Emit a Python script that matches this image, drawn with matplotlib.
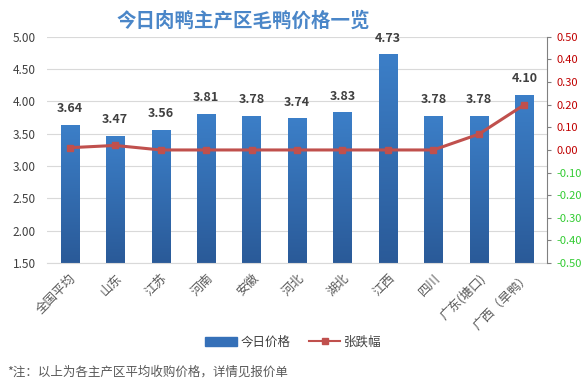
import numpy as np
import matplotlib
matplotlib.use('Agg')
import matplotlib.pyplot as plt
from matplotlib.lines import Line2D
from matplotlib.patches import Patch
from matplotlib.colors import LinearSegmentedColormap

plt.rcParams['font.family'] = ['Noto Sans CJK SC', 'DejaVu Sans']

regions = ['全国平均', '山东', '江苏', '河南', '安徽', '河北', '湖北', '江西', '四川', '广东(塘口)', '广西（旱鸭）']
prices = [3.64, 3.47, 3.56, 3.81, 3.78, 3.74, 3.83, 4.73, 3.78, 3.78, 4.10]
changes = [0.01, 0.02, 0.00, 0.00, 0.00, 0.00, 0.00, 0.00, 0.00, 0.07, 0.20]

bar_color = '#3570B8'
line_color = '#C0504D'
grad = LinearSegmentedColormap.from_list('g', ['#2A5A98', '#3C7FC8'])

fig = plt.figure(figsize=(5.87, 3.88), dpi=100)
ax = fig.add_axes([0.080, 0.322, 0.852, 0.583])
x = np.arange(len(regions))

bars = ax.bar(x, prices, width=0.4, color=bar_color, zorder=2)

# vertical gradient on each bar
g = np.linspace(0, 1, 256).reshape(-1, 1)
for b in bars:
    bx, bw, bh = b.get_x(), b.get_width(), b.get_height()
    im = ax.imshow(g, cmap=grad, aspect='auto', origin='lower',
                   extent=[bx, bx + bw, 1.5, bh], zorder=2.1)
    im.set_clip_path(b)
ax.set_xlim(-0.5, len(regions) - 0.5)
ax.set_ylim(1.5, 5.0)

ax.set_yticks(np.arange(1.5, 5.01, 0.5))
ax.set_yticklabels(['%.2f' % v for v in np.arange(1.5, 5.01, 0.5)], fontsize=8.5, color='#404040')
ax.grid(axis='y', color='#D9D9D9', linewidth=0.8, zorder=0)
ax.set_axisbelow(True)
for s in ax.spines.values():
    s.set_visible(False)
ax.spines['bottom'].set_visible(True)
ax.spines['bottom'].set_color('#D9D9D9')
ax.tick_params(axis='y', length=0, pad=8)
ax.tick_params(axis='x', length=0, pad=6)
ax.set_xticks(x)
ax.set_xticklabels(regions, rotation=45, ha='right', rotation_mode='anchor', fontsize=9, color='#595959')

for xi, p in zip(x, prices):
    ax.text(xi, p + 0.15, '%.2f' % p, ha='center', va='bottom', fontsize=9, fontweight='bold', color='#404040')

ax2 = ax.twinx()
ax2.plot(x, changes, color=line_color, linewidth=2.2, marker='s', markersize=5, zorder=3)
ax2.set_ylim(-0.5, 0.5)
rt = np.round(np.arange(-0.5, 0.51, 0.1), 2)
ax2.set_yticks(rt)
ax2.set_yticklabels(['%.2f' % (v + 0.0) for v in rt], fontsize=8)
for lbl, v in zip(ax2.get_yticklabels(), rt):
    lbl.set_color('#C00000' if v >= -1e-9 else '#33CC33')
for s in ['top', 'left', 'bottom']:
    ax2.spines[s].set_visible(False)
ax2.spines['right'].set_color('#808080')
ax2.tick_params(axis='y', length=3, color='#808080', direction='out', pad=4)

fig.text(0.415, 0.945, '今日肉鸭主产区毛鸭价格一览', ha='center', va='center', fontsize=14, fontweight='bold', color='#4A86C8')

handles = [Patch(color=bar_color), Line2D([0], [0], color=line_color, linewidth=1.5, marker='s', markersize=4)]
fig.legend(handles, ['今日价格', '张跌幅'], loc='center', bbox_to_anchor=(0.5, 0.118), ncol=2, frameon=False,
           fontsize=9, handlelength=2.5, handletextpad=0.3, columnspacing=1.5, labelcolor='#404040')

fig.text(0.012, 0.04, '*注：以上为各主产区平均收购价格，详情见报价单', fontsize=9, color='#595959', va='center')

fig.savefig('out.png', dpi=100)
